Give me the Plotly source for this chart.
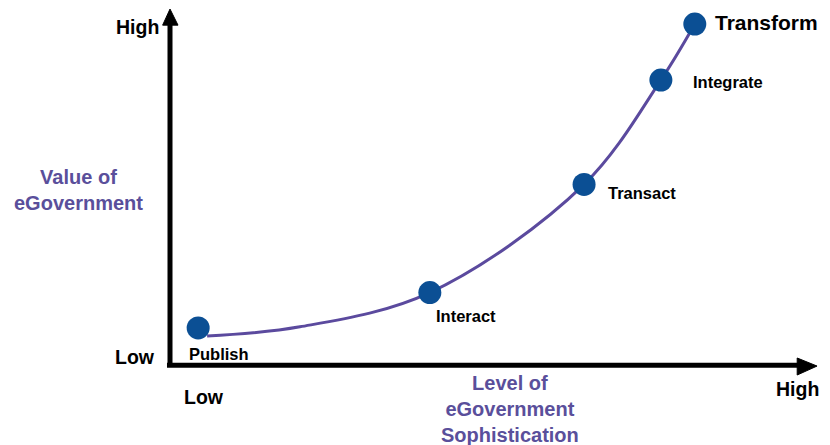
import plotly.graph_objects as go

# ---- data (level of sophistication vs value, arbitrary 0-100 units) ----
stages = ["Publish", "Interact", "Transact", "Integrate", "Transform"]
stage_level = [4.4, 40.6, 64.7, 76.7, 82.0]
stage_value = [10.6, 20.7, 51.6, 81.4, 97.4]

curve_level = [5.8, 20.3, 40.6, 64.7, 76.7, 82.0]
curve_value = [8.3, 10.9, 20.7, 51.6, 81.4, 97.4]

axis_low_high = ["Low", "High"]

PX_X = 6.4   # px per unit
PX_Y = 3.5
FONT = "Liberation Sans, Arial, sans-serif"
PURPLE = "#5a4f9b"
BLUE = "#0b4f94"

fig = go.Figure()

fig.add_trace(go.Scatter(
    x=curve_level, y=curve_value, mode="lines",
    line=dict(color="#5b4a9e", width=3, shape="spline", smoothing=1.0),
    hoverinfo="skip", showlegend=False))

fig.add_trace(go.Scatter(
    x=stage_level, y=stage_value, mode="markers",
    marker=dict(color=BLUE, size=23, line=dict(width=0)),
    hoverinfo="skip", showlegend=False))

# axes with arrow heads
shapes = [
    dict(type="line", xref="x", yref="y", x0=0, y0=-0.1, x1=0, y1=98.0,
         line=dict(color="black", width=5)),
    dict(type="path", xref="x", yref="y",
         path="M -1.15 97.1 L 0 101.7 L 1.25 97.1 Z",
         fillcolor="black", line=dict(color="black", width=1)),
    dict(type="line", xref="x", yref="y", x0=-0.47, y0=-0.1, x1=98.5, y1=-0.1,
         line=dict(color="black", width=5)),
    dict(type="path", xref="x", yref="y",
         path="M 98.0 2.0 L 101.1 -0.3 L 98.0 -2.86 Z",
         fillcolor="black", line=dict(color="black", width=1)),
]

# stage labels: (xshift, yshift, size)
label_offsets = {
    "Publish": (-11, -26, 16.5),
    "Interact": (4, -23.5, 16.5),
    "Transact": (22, -8.5, 16.5),
    "Integrate": (30, -2, 16.5),
    "Transform": (18, 2, 21),
}
annotations = []
for name, lx, ly in zip(stages, stage_level, stage_value):
    dx, dy, sz = label_offsets[name]
    annotations.append(dict(
        x=lx, y=ly, xref="x", yref="y", text="<b>%s</b>" % name,
        showarrow=False, xanchor="left", yanchor="middle",
        xshift=dx, yshift=dy,
        font=dict(family=FONT, size=sz, color="black")))

def px_to_x(px):
    return (px - 170) / PX_X

def py_to_y(py):
    return (365 - py) / PX_Y

# axis end labels
annotations += [
    dict(x=px_to_x(161), y=py_to_y(27), text="<b>%s</b>" % axis_low_high[1],
         xanchor="right", yanchor="middle"),
    dict(x=px_to_x(157), y=py_to_y(357), text="<b>%s</b>" % axis_low_high[0],
         xanchor="right", yanchor="middle"),
    dict(x=px_to_x(182), y=py_to_y(397), text="<b>%s</b>" % axis_low_high[0],
         xanchor="left", yanchor="middle"),
    dict(x=px_to_x(774), y=py_to_y(389), text="<b>%s</b>" % axis_low_high[1],
         xanchor="left", yanchor="middle"),
]
for a in annotations[-4:]:
    a.update(xref="x", yref="y", showarrow=False,
             font=dict(family=FONT, size=19.5, color="black"))

# axis titles
annotations += [
    dict(x=px_to_x(78), y=py_to_y(190), xref="x", yref="y",
         text="<b>Value of<br>eGovernment</b>", showarrow=False,
         xanchor="center", yanchor="middle", align="center",
         font=dict(family=FONT, size=20, color=PURPLE)),
    dict(x=px_to_x(510), y=py_to_y(409), xref="x", yref="y",
         text="<b>Level of<br>eGovernment<br>Sophistication</b>", showarrow=False,
         xanchor="center", yanchor="middle", align="center",
         font=dict(family=FONT, size=20, color=PURPLE)),
]

fig.update_layout(
    width=830, height=445,
    margin=dict(l=0, r=0, t=0, b=0),
    paper_bgcolor="white", plot_bgcolor="white",
    xaxis=dict(range=[px_to_x(0), px_to_x(830)], visible=False, fixedrange=True),
    yaxis=dict(range=[py_to_y(445), py_to_y(0)], visible=False, fixedrange=True),
    shapes=shapes, annotations=annotations,
    showlegend=False,
)

fig.write_html("out.html")
